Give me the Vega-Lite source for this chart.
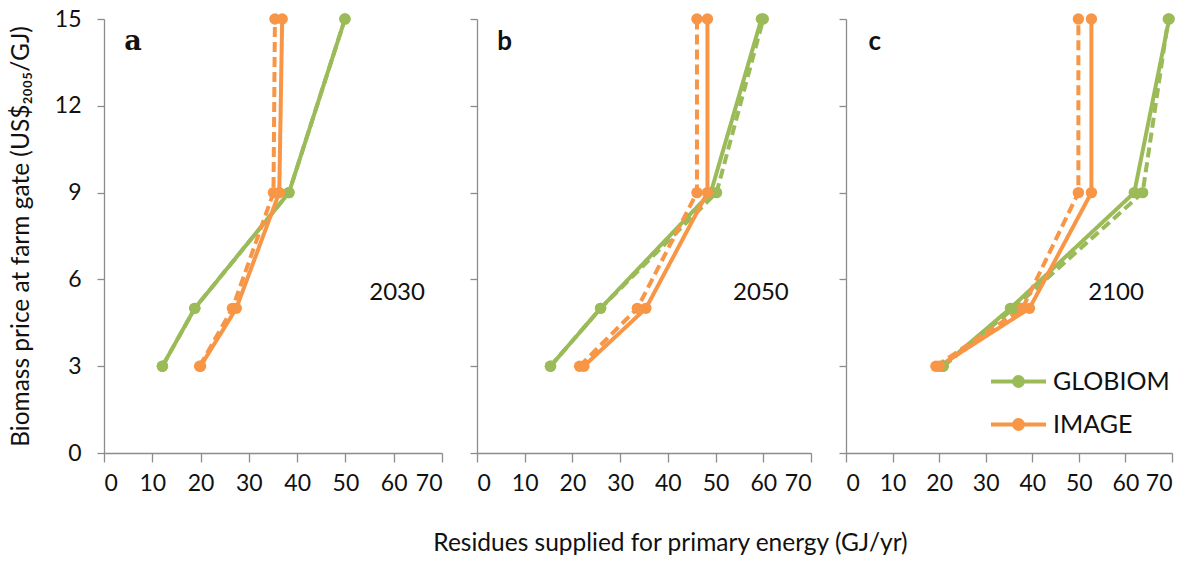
{
  "$schema": "https://vega.github.io/schema/vega-lite/v6.json",
  "padding": {"left": 8, "top": 8, "right": 5, "bottom": 5},
  "background": "white",
  "config": {
    "view": {"stroke": null},
    "font": "Lato",
    "axis": {
      "grid": false,
      "domainColor": "#8c8c8c",
      "tickColor": "#8c8c8c",
      "domainWidth": 1.3,
      "tickWidth": 1.3,
      "tickSize": 9,
      "labelFont": "Lato",
      "labelFontSize": 23,
      "labelColor": "#111111",
      "titleFont": "Lato",
      "titleFontSize": 24.5,
      "titleFontWeight": "normal",
      "titleColor": "#111111"
    },
    "legend": {"labelFont": "Lato", "labelFontSize": 25, "labelColor": "#111111"}
  },
  "datasets": {
    "curves": [
      {"year": 2030, "model": "GLOBIOM", "scenario": "S1", "price": 3, "residues": 12.1},
      {"year": 2030, "model": "GLOBIOM", "scenario": "S1", "price": 5, "residues": 18.8},
      {"year": 2030, "model": "GLOBIOM", "scenario": "S1", "price": 9, "residues": 38.3},
      {"year": 2030, "model": "GLOBIOM", "scenario": "S1", "price": 15, "residues": 49.9},
      {"year": 2030, "model": "GLOBIOM", "scenario": "S2", "price": 3, "residues": 12.1},
      {"year": 2030, "model": "GLOBIOM", "scenario": "S2", "price": 5, "residues": 18.8},
      {"year": 2030, "model": "GLOBIOM", "scenario": "S2", "price": 9, "residues": 38.3},
      {"year": 2030, "model": "GLOBIOM", "scenario": "S2", "price": 15, "residues": 49.9},
      {"year": 2050, "model": "GLOBIOM", "scenario": "S1", "price": 3, "residues": 15.4},
      {"year": 2050, "model": "GLOBIOM", "scenario": "S1", "price": 5, "residues": 25.9},
      {"year": 2050, "model": "GLOBIOM", "scenario": "S1", "price": 9, "residues": 49.0},
      {"year": 2050, "model": "GLOBIOM", "scenario": "S1", "price": 15, "residues": 59.6},
      {"year": 2050, "model": "GLOBIOM", "scenario": "S2", "price": 3, "residues": 15.4},
      {"year": 2050, "model": "GLOBIOM", "scenario": "S2", "price": 5, "residues": 25.9},
      {"year": 2050, "model": "GLOBIOM", "scenario": "S2", "price": 9, "residues": 50.2},
      {"year": 2050, "model": "GLOBIOM", "scenario": "S2", "price": 15, "residues": 60.0},
      {"year": 2100, "model": "GLOBIOM", "scenario": "S1", "price": 3, "residues": 20.7},
      {"year": 2100, "model": "GLOBIOM", "scenario": "S1", "price": 5, "residues": 35.3},
      {"year": 2100, "model": "GLOBIOM", "scenario": "S1", "price": 9, "residues": 61.9},
      {"year": 2100, "model": "GLOBIOM", "scenario": "S1", "price": 15, "residues": 69.4},
      {"year": 2100, "model": "GLOBIOM", "scenario": "S2", "price": 3, "residues": 20.9},
      {"year": 2100, "model": "GLOBIOM", "scenario": "S2", "price": 5, "residues": 36.0},
      {"year": 2100, "model": "GLOBIOM", "scenario": "S2", "price": 9, "residues": 63.7},
      {"year": 2100, "model": "GLOBIOM", "scenario": "S2", "price": 15, "residues": 69.2},
      {"year": 2030, "model": "IMAGE", "scenario": "S1", "price": 3, "residues": 20.0},
      {"year": 2030, "model": "IMAGE", "scenario": "S1", "price": 5, "residues": 27.4},
      {"year": 2030, "model": "IMAGE", "scenario": "S1", "price": 9, "residues": 36.3},
      {"year": 2030, "model": "IMAGE", "scenario": "S1", "price": 15, "residues": 36.9},
      {"year": 2030, "model": "IMAGE", "scenario": "S2", "price": 3, "residues": 19.8},
      {"year": 2030, "model": "IMAGE", "scenario": "S2", "price": 5, "residues": 26.6},
      {"year": 2030, "model": "IMAGE", "scenario": "S2", "price": 9, "residues": 35.1},
      {"year": 2030, "model": "IMAGE", "scenario": "S2", "price": 15, "residues": 35.4},
      {"year": 2050, "model": "IMAGE", "scenario": "S1", "price": 3, "residues": 22.4},
      {"year": 2050, "model": "IMAGE", "scenario": "S1", "price": 5, "residues": 35.4},
      {"year": 2050, "model": "IMAGE", "scenario": "S1", "price": 9, "residues": 48.3},
      {"year": 2050, "model": "IMAGE", "scenario": "S1", "price": 15, "residues": 48.3},
      {"year": 2050, "model": "IMAGE", "scenario": "S2", "price": 3, "residues": 21.5},
      {"year": 2050, "model": "IMAGE", "scenario": "S2", "price": 5, "residues": 33.6},
      {"year": 2050, "model": "IMAGE", "scenario": "S2", "price": 9, "residues": 46.1},
      {"year": 2050, "model": "IMAGE", "scenario": "S2", "price": 15, "residues": 46.1},
      {"year": 2100, "model": "IMAGE", "scenario": "S1", "price": 3, "residues": 20.0},
      {"year": 2100, "model": "IMAGE", "scenario": "S1", "price": 5, "residues": 39.4},
      {"year": 2100, "model": "IMAGE", "scenario": "S1", "price": 9, "residues": 52.7},
      {"year": 2100, "model": "IMAGE", "scenario": "S1", "price": 15, "residues": 52.7},
      {"year": 2100, "model": "IMAGE", "scenario": "S2", "price": 3, "residues": 19.3},
      {"year": 2100, "model": "IMAGE", "scenario": "S2", "price": 5, "residues": 37.9},
      {"year": 2100, "model": "IMAGE", "scenario": "S2", "price": 9, "residues": 49.9},
      {"year": 2100, "model": "IMAGE", "scenario": "S2", "price": 15, "residues": 49.9}
    ],
    "panels": [
      {"year": 2030, "letter": "a", "label": "2030"},
      {"year": 2050, "letter": "b", "label": "2050"},
      {"year": 2100, "letter": "c", "label": "2100"}
    ]
  },
  "spacing": 35,
  "bounds": "flush",
  "hconcat": [
    {
      "width": 338,
      "height": 434,
      "layer": [
        {
          "data": {"name": "curves"},
          "transform": [{"filter": "datum.year == 2030"}],
          "mark": {"type": "line", "strokeWidth": 4, "strokeCap": "butt"},
          "encoding": {
            "x": {"field": "residues", "type": "quantitative", "scale": {"domain": [0, 70], "nice": false},
                  "axis": {"values": [0, 10, 20, 30, 40, 50, 60, 70], "labelPadding": 10, "title": null}},
            "y": {"field": "price", "type": "quantitative", "scale": {"domain": [0, 15], "nice": false},
                  "axis": {"values": [0, 3, 6, 9, 12, 15], "labelPadding": 16, "tickSize": 7, "titlePadding": 21,
                           "title": "Biomass price at farm gate (US$₂₀₀₅/GJ)"}},
            "order": {"field": "price", "type": "quantitative"},
            "color": {"field": "model", "type": "nominal",
                      "scale": {"domain": ["GLOBIOM", "IMAGE"], "range": ["#9BBB59", "#F79646"]},
                      "legend": {"orient": "none", "legendX": 885, "legendY": 333, "title": null,
                                 "symbolType": "M-1,0H1M0.16,0A0.16,0.16,0,1,1,-0.16,0A0.16,0.16,0,1,1,0.16,0Z",
                                 "symbolSize": 3025, "symbolStrokeWidth": 4, "rowPadding": -15, "labelOffset": 5,
                                 "encode": {"symbols": {"update": {"fill": {"scale": "color", "field": "value"}, "stroke": {"scale": "color", "field": "value"}}}}}},
            "strokeDash": {"field": "scenario", "type": "nominal",
                           "scale": {"domain": ["S1", "S2"], "range": [[1, 0], [10, 5]]}, "legend": null}
          }
        },
        {
          "data": {"name": "curves"},
          "transform": [{"filter": "datum.year == 2030"}],
          "mark": {"type": "point", "filled": true, "opacity": 1, "size": 130},
          "encoding": {
            "x": {"field": "residues", "type": "quantitative"},
            "y": {"field": "price", "type": "quantitative"},
            "color": {"field": "model", "type": "nominal"}
          }
        },
        {
          "data": {"name": "panels"},
          "transform": [{"filter": "datum.year == 2030"}],
          "mark": {"type": "text", "fontSize": 27, "fontWeight": "bold", "font": "DejaVu Serif", "color": "#111111"},
          "encoding": {"x": {"datum": 6.0}, "y": {"datum": 14.2}, "text": {"field": "letter"}}
        },
        {
          "data": {"name": "panels"},
          "transform": [{"filter": "datum.year == 2030"}],
          "mark": {"type": "text", "fontSize": 24, "color": "#111111"},
          "encoding": {"x": {"datum": 60.7}, "y": {"datum": 5.53}, "text": {"field": "label"}}
        }
      ]
    },
    {
      "width": 334,
      "height": 434,
      "layer": [
        {
          "data": {"name": "curves"},
          "transform": [{"filter": "datum.year == 2050"}],
          "mark": {"type": "line", "strokeWidth": 4, "strokeCap": "butt"},
          "encoding": {
            "x": {"field": "residues", "type": "quantitative", "scale": {"domain": [0, 70], "nice": false},
                  "axis": {"values": [0, 10, 20, 30, 40, 50, 60, 70], "labelPadding": 10, "titlePadding": 36, "titleX": 193,
                           "title": "Residues supplied for primary energy (GJ/yr)"}},
            "y": {"field": "price", "type": "quantitative", "scale": {"domain": [0, 15], "nice": false},
                  "axis": {"values": [0, 3, 6, 9, 12, 15], "labels": false, "tickSize": 7, "title": null}},
            "order": {"field": "price", "type": "quantitative"},
            "color": {"field": "model", "type": "nominal"},
            "strokeDash": {"field": "scenario", "type": "nominal", "legend": null}
          }
        },
        {
          "data": {"name": "curves"},
          "transform": [{"filter": "datum.year == 2050"}],
          "mark": {"type": "point", "filled": true, "opacity": 1, "size": 130},
          "encoding": {
            "x": {"field": "residues", "type": "quantitative"},
            "y": {"field": "price", "type": "quantitative"},
            "color": {"field": "model", "type": "nominal"}
          }
        },
        {
          "data": {"name": "panels"},
          "transform": [{"filter": "datum.year == 2050"}],
          "mark": {"type": "text", "fontSize": 26, "fontWeight": "bold", "color": "#111111"},
          "encoding": {"x": {"datum": 5.8}, "y": {"datum": 14.2}, "text": {"field": "letter"}}
        },
        {
          "data": {"name": "panels"},
          "transform": [{"filter": "datum.year == 2050"}],
          "mark": {"type": "text", "fontSize": 24, "color": "#111111"},
          "encoding": {"x": {"datum": 59.5}, "y": {"datum": 5.53}, "text": {"field": "label"}}
        }
      ]
    },
    {
      "width": 326,
      "height": 434,
      "layer": [
        {
          "data": {"name": "curves"},
          "transform": [{"filter": "datum.year == 2100"}],
          "mark": {"type": "line", "strokeWidth": 4, "strokeCap": "butt"},
          "encoding": {
            "x": {"field": "residues", "type": "quantitative", "scale": {"domain": [0, 70], "nice": false},
                  "axis": {"values": [0, 10, 20, 30, 40, 50, 60, 70], "labelPadding": 10, "title": null}},
            "y": {"field": "price", "type": "quantitative", "scale": {"domain": [0, 15], "nice": false},
                  "axis": {"values": [0, 3, 6, 9, 12, 15], "labels": false, "tickSize": 7, "title": null}},
            "order": {"field": "price", "type": "quantitative"},
            "color": {"field": "model", "type": "nominal"},
            "strokeDash": {"field": "scenario", "type": "nominal", "legend": null}
          }
        },
        {
          "data": {"name": "curves"},
          "transform": [{"filter": "datum.year == 2100"}],
          "mark": {"type": "point", "filled": true, "opacity": 1, "size": 130},
          "encoding": {
            "x": {"field": "residues", "type": "quantitative"},
            "y": {"field": "price", "type": "quantitative"},
            "color": {"field": "model", "type": "nominal"}
          }
        },
        {
          "data": {"name": "panels"},
          "transform": [{"filter": "datum.year == 2100"}],
          "mark": {"type": "text", "fontSize": 26, "fontWeight": "bold", "color": "#111111"},
          "encoding": {"x": {"datum": 6.2}, "y": {"datum": 14.2}, "text": {"field": "letter"}}
        },
        {
          "data": {"name": "panels"},
          "transform": [{"filter": "datum.year == 2100"}],
          "mark": {"type": "text", "fontSize": 24, "color": "#111111"},
          "encoding": {"x": {"datum": 58.0}, "y": {"datum": 5.53}, "text": {"field": "label"}}
        }
      ]
    }
  ]
}
